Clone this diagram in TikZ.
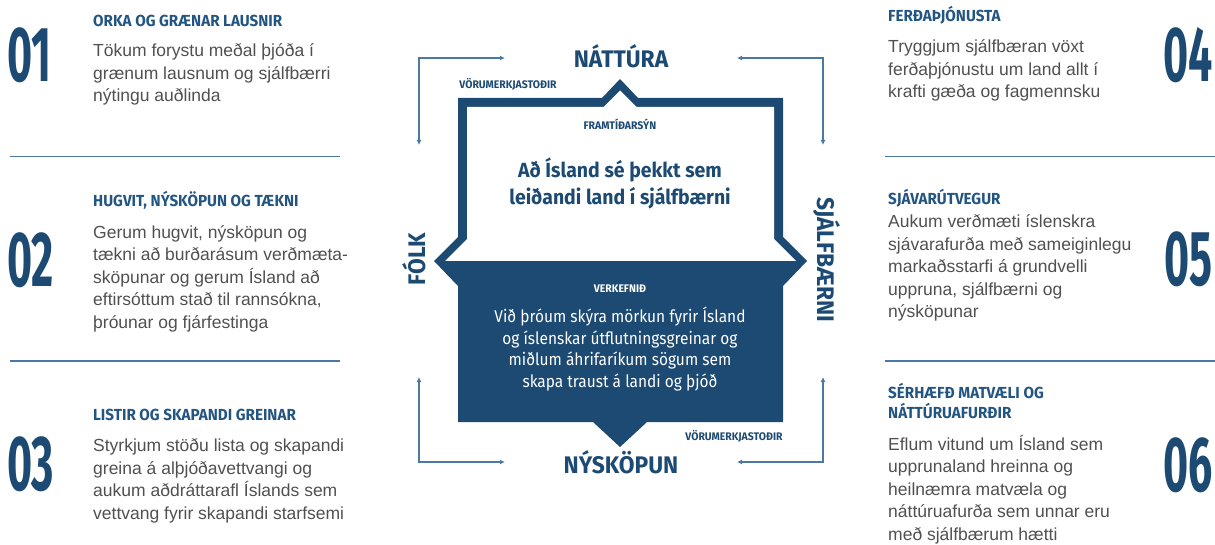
\documentclass[tikz,border=0pt]{standalone}
\usepackage{fontspec}
\setmainfont{Liberation Sans}
\newfontfamily\widefont[FakeStretch=0.95]{Fira Sans}
\newfontfamily\numfont[FakeStretch=0.55]{Fira Sans}
\newfontfamily\missionfont[FakeStretch=0.91]{Fira Sans}
\usetikzlibrary{arrows.meta, positioning}

\definecolor{navy}{RGB}{28,74,115}
\definecolor{headblue}{RGB}{35,85,130}
\definecolor{linkblue}{RGB}{74,121,165}
\definecolor{txtgray}{RGB}{80,80,80}

\newcommand{\bodylines}[1]{\parbox[t]{300pt}{\raggedright #1}}
\newcommand{\midlines}[1]{\parbox[t]{320pt}{\centering #1}}

\begin{document}
\begin{tikzpicture}[x=1pt, y=1pt,
    numtxt/.style={inner sep=0pt, text=navy, font=\numfont\bfseries\fontsize{78}{78}\selectfont},
    headtxt/.style={inner sep=0pt, anchor=base west, text=headblue, font=\widefont\bfseries\fontsize{16}{20.5}\selectfont},
    bodytxt/.style={inner sep=0pt, anchor=base west, text=txtgray, font=\fontsize{17.5}{22.5}\selectfont},
    pillar/.style={inner sep=0pt, anchor=base, text=navy, font=\widefont\bfseries\fontsize{24}{24}\selectfont},
    tagtxt/.style={inner sep=0pt, anchor=base, text=navy, font=\widefont\bfseries\fontsize{11}{11}\selectfont},
    seprule/.style={linkblue, line width=1.4pt},
    looparrow/.style={linkblue, line width=1.3pt, {Latex[length=5pt,width=5pt]}-{Latex[length=5pt,width=5pt]}}]
    \useasboundingbox (0,0) rectangle (1215,-545);

    % Left column
    \node[numtxt, anchor=base west] (num1) at (7,-82) {01};
    \node[headtxt] (head1) at (93,-26.7) {ORKA OG GRÆNAR LAUSNIR};
    \node[bodytxt] (body1) at (93,-57) {\bodylines{Tökum forystu meðal þjóða í\\grænum lausnum og sjálfbærri\\nýtingu auðlinda}};
    \draw[seprule] (10,-156.7) -- (340,-156.7);

    \node[numtxt, anchor=base west] (num2) at (7,-287) {02};
    \node[headtxt] (head2) at (93,-206.7) {HUGVIT, NÝSKÖPUN OG TÆKNI};
    \node[bodytxt] (body2) at (93,-238.3) {\bodylines{Gerum hugvit, nýsköpun og\\tækni að burðarásum verðmæta-\\sköpunar og gerum Ísland að\\eftirsóttum stað til rannsókna,\\þróunar og fjárfestinga}};
    \draw[seprule] (10,-361) -- (340,-361);

    \node[numtxt, anchor=base west] (num3) at (7,-490) {03};
    \node[headtxt] (head3) at (93,-420) {LISTIR OG SKAPANDI GREINAR};
    \node[bodytxt] (body3) at (93,-451.7) {\bodylines{Styrkjum stöðu lista og skapandi\\greina á alþjóðavettvangi og\\aukum aðdráttarafl Íslands sem\\vettvang fyrir skapandi starfsemi}};

    % Right column
    \node[numtxt, anchor=base east] (num4) at (1213,-82) {04};
    \node[headtxt] (head4) at (888,-21.7) {FERÐAÞJÓNUSTA};
    \node[bodytxt] (body4) at (888,-53) {\bodylines{Tryggjum sjálfbæran vöxt\\ferðaþjónustu um land allt í\\krafti gæða og fagmennsku}};
    \draw[seprule] (885,-156.7) -- (1215,-156.7);

    \node[numtxt, anchor=base east] (num5) at (1213,-286) {05};
    \node[headtxt] (head5) at (888,-205) {SJÁVARÚTVEGUR};
    \node[bodytxt] (body5) at (888,-228) {\bodylines{Aukum verðmæti íslenskra\\sjávarafurða með sameiginlegu\\markaðsstarfi á grundvelli\\uppruna, sjálfbærni og\\nýsköpunar}};
    \draw[seprule] (885,-361) -- (1215,-361);

    \node[numtxt, anchor=base east] (num6) at (1213,-491) {06};
    \node[headtxt] (head6) at (888,-398) {\parbox[t]{300pt}{SÉRHÆFÐ MATVÆLI OG\\NÁTTÚRUAFURÐIR}};
    \node[bodytxt] (body6) at (888,-450) {\bodylines{Eflum vitund um Ísland sem\\upprunaland hreinna og\\heilnæmra matvæla og\\náttúruafurða sem unnar eru\\með sjálfbærum hætti}};

    % Frame
    \fill[navy] (458,-98) -- (602,-98) -- (620,-79) -- (638,-98) -- (783,-98) -- (783,-237)
        -- (807,-261) -- (783,-286) -- (783,-422) -- (647,-422) -- (620,-447) -- (593,-422)
        -- (458,-422) -- (458,-286) -- (434,-261) -- (458,-237) -- cycle;
    \fill[white] (467,-107) -- (603.5,-107) -- (620,-90.5) -- (636.5,-107) -- (774,-107)
        -- (774,-239) -- (796,-261) -- (445,-261) -- (467,-239) -- cycle;

    % Vision and mission
    \node[tagtxt] (vision) at (620,-130) {FRAMTÍÐARSÝN};
    \node[inner sep=0pt, anchor=base, text=navy, font=\widefont\bfseries\fontsize{20.5}{27}\selectfont] (visiontxt) at (620,-178)
        {\midlines{Að Ísland sé þekkt sem\\leiðandi land í sjálfbærni}};
    \node[tagtxt, text=white] (mission) at (620,-292) {VERKEFNIÐ};
    \node[inner sep=0pt, anchor=base, text=white, font=\missionfont\fontsize{17}{21.5}\selectfont] (missiontxt) at (620,-323)
        {\midlines{Við þróum skýra mörkun fyrir Ísland\\og íslenskar útflutningsgreinar og\\miðlum áhrifaríkum sögum sem\\skapa traust á landi og þjóð}};

    % Pillars
    \node[pillar] (natt) at (621,-68) {NÁTTÚRA};
    \node[pillar] (nysk) at (621,-473) {NÝSKÖPUN};
    \node[pillar, rotate=90] (folk) at (425,-259) {FÓLK};
    \node[pillar, rotate=-90] (sjalf) at (817,-260) {SJÁLFBÆRNI};
    \node[tagtxt] (vtop) at (508,-89) {VÖRUMERKJASTOÐIR};
    \node[tagtxt] (vbot) at (734,-440.5) {VÖRUMERKJASTOÐIR};

    % Loop arrows
    \coordinate (tlA) at (419,-145);
    \coordinate (tlB) at (505,-58);
    \coordinate (trA) at (737,-58);
    \coordinate (trB) at (823,-145);
    \coordinate (blA) at (419,-377);
    \coordinate (blB) at (505,-462);
    \coordinate (brA) at (823,-377);
    \coordinate (brB) at (737,-462);
    \draw[looparrow] (tlA) |- (tlB);
    \draw[looparrow] (trA) -| (trB);
    \draw[looparrow] (blA) |- (blB);
    \draw[looparrow] (brA) |- (brB);
\end{tikzpicture}
\end{document}
